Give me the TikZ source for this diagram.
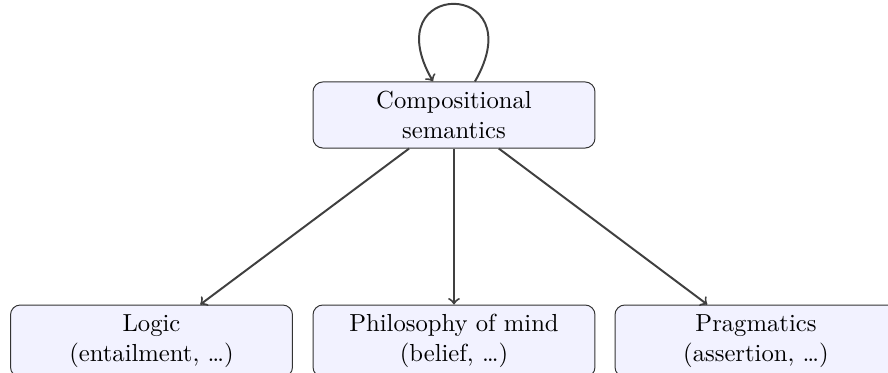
\documentclass[tikz,border=0pt]{standalone}
\usepackage{fontspec}
\usepackage{amsmath}

\tikzset{
  topic/.style={draw=black!80, fill=blue!5, rounded corners=4pt, align=center,
    minimum width=114.4pt, minimum height=26.8pt, inner sep=2pt},
  link/.style={->, thick, black!75}
}

\begin{document}
\begin{tikzpicture}[x=0.4057pt,y=-0.4057pt]
        \useasboundingbox (0,0) rectangle (888,373);
        \node[topic] (comp) at (454,115) {Compositional\\semantics};
        \node[topic, minimum height=29.2pt] (logic) at (151.5,341) {Logic\\(entailment, …)};
        \node[topic, minimum height=29.2pt] (mind) at (454,341) {Philosophy of mind\\(belief, …)};
        \node[topic, minimum height=29.2pt] (prag) at (756,341) {Pragmatics\\(assertion, …)};

        \draw[link] (comp.58) to[out=60,in=120,looseness=7.3] (comp.122); % Self loop.
        \draw[link] (comp) -- (logic);
        \draw[link] (comp) -- (mind);
        \draw[link] (comp) -- (prag);
      \end{tikzpicture}
\end{document}
